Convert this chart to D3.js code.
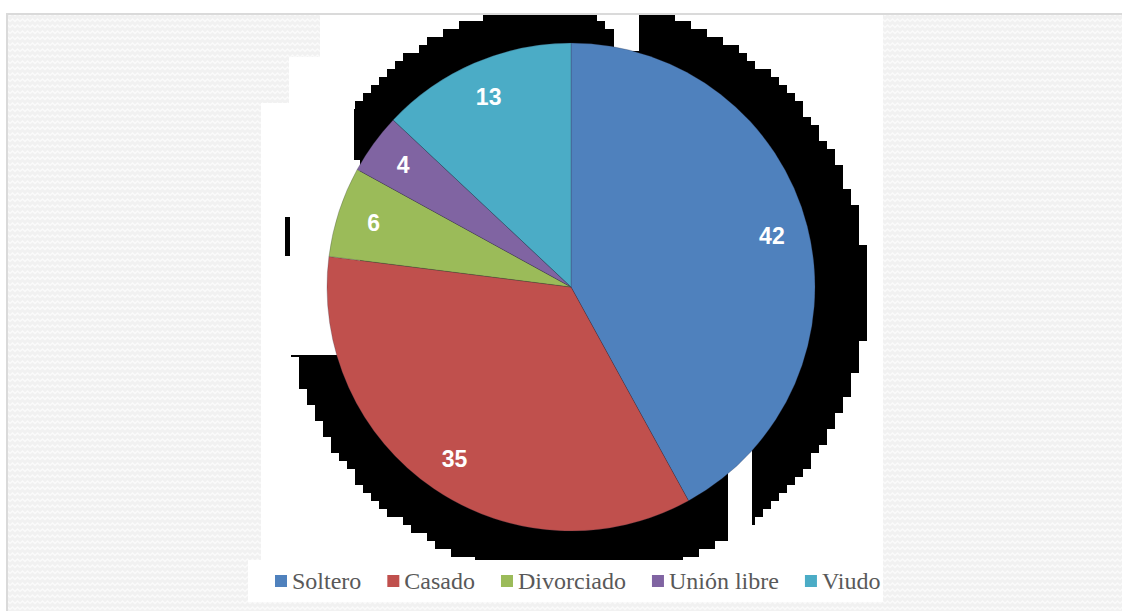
<!DOCTYPE html>
<html>
<head>
<meta charset="utf-8">
<script src="https://cdn.jsdelivr.net/npm/d3@7"></script>
<style>
  html, body { margin: 0; padding: 0; background: #ffffff; }
  svg { display: block; }
</style>
</head>
<body>
<svg id="chart" width="1122" height="611"></svg>
<script>
// ---- data ----
const categories = ["Soltero", "Casado", "Divorciado", "Unión libre", "Viudo"];
const values = [42, 35, 6, 4, 13];
const colors = ["#4F81BD", "#C0504D", "#9BBB59", "#8064A2", "#4BACC6"];

const W = 1122, H = 611;
const svg = d3.select("#chart");

// ---- background pattern ----
const defs = svg.append("defs");
const pat = defs.append("pattern").attr("id", "bgpat")
  .attr("patternUnits", "userSpaceOnUse").attr("width", 10).attr("height", 6);
pat.append("rect").attr("width", 10).attr("height", 6).attr("fill", "#f1f1f1");
pat.append("path").attr("d", "M0 3.5 L2.5 1 L5 3.5 L7.5 1 L10 3.5")
  .attr("fill", "none").attr("stroke", "#fbfbfb").attr("stroke-width", 1.4);

svg.append("rect").attr("x", 7).attr("y", 14).attr("width", W + 20).attr("height", H + 20)
  .attr("fill", "url(#bgpat)").attr("stroke", "#dadada").attr("stroke-width", 2);

// white chart panel (stepped shape as in the scan)
const panel = svg.append("g").attr("fill", "#ffffff");
[[320, 15, 563, 42], [289, 57, 594, 46], [261, 103, 622, 457]].forEach(r =>
  panel.append("rect").attr("x", r[0]).attr("y", r[1]).attr("width", r[2]).attr("height", r[3]));

// ---- pie geometry ----
const cx = 571, cy = 287, R = 244;

// pixelated black shadow (scan artifact) behind the pie
const sh = { cx: 577, cy: 291, r: 290 };
const shadow = svg.append("g").attr("fill", "#000");
const q = v => Math.round((v - 3) / 8) * 8 + 3;
for (let y0 = 13; y0 < 560; y0 += 8) {
  const ym = y0 + 4;
  const dy = ym - sh.cy;
  if (Math.abs(dy) >= sh.r) continue;
  const hw = Math.sqrt(sh.r * sh.r - dy * dy);
  const x1 = q(sh.cx - hw), x2 = q(sh.cx + hw);
  const top = Math.max(y0, 15);
  shadow.append("rect").attr("x", x1).attr("y", top).attr("width", x2 - x1).attr("height", y0 + 8 - top);
}
// white cut-outs in the shadow
const masks = [[261, 103, 93, 57], [261, 160, 99, 195], [597, 15, 42, 6], [605, 21, 34, 8], [614, 29, 25, 22], [728, 440, 24, 120]];
masks.forEach(r => svg.append("rect").attr("fill", "#fff")
  .attr("x", r[0]).attr("y", r[1]).attr("width", r[2]).attr("height", r[3]));
svg.append("rect").attr("x", 285).attr("y", 217).attr("width", 5).attr("height", 39).attr("fill", "#000");

// legend strip
svg.append("rect").attr("x", 248).attr("y", 560).attr("width", 635).attr("height", 42).attr("fill", "#fff");

// ---- pie ----
const pie = d3.pie().sort(null).value(d => d.v);
const data = pie(categories.map((c, i) => ({ c, v: values[i], col: colors[i] })));
const arc = d3.arc().innerRadius(0).outerRadius(R);
const labelArc = d3.arc().innerRadius(R * 0.85).outerRadius(R * 0.85);

const g = svg.append("g").attr("transform", `translate(${cx},${cy})`);
g.selectAll("path.slice").data(data).enter().append("path")
  .attr("class", "slice")
  .attr("d", arc)
  .attr("fill", d => d.data.col)
  .attr("stroke", "rgba(40,40,60,0.35)")
  .attr("stroke-width", 0.7);

g.selectAll("text.lbl").data(data).enter().append("text")
  .attr("class", "lbl")
  .attr("transform", d => `translate(${labelArc.centroid(d)})`)
  .attr("text-anchor", "middle")
  .attr("dy", "0.36em")
  .attr("fill", "#ffffff")
  .attr("font-family", "Arial, 'Liberation Sans', sans-serif")
  .attr("font-weight", "bold")
  .attr("font-size", 23)
  .text(d => d.data.v);

// ---- legend ----
const leg = svg.append("g");
let lx = 275;
categories.forEach((c, i) => {
  leg.append("rect").attr("x", lx).attr("y", 575).attr("width", 12).attr("height", 12).attr("fill", colors[i]);
  const t = leg.append("text").attr("x", lx + 17).attr("y", 589)
    .attr("font-family", "'Times New Roman', 'Liberation Serif', serif")
    .attr("font-size", 24).attr("fill", "#595959").text(c);
  lx += 17 + t.node().getComputedTextLength() + 26;
});
</script>
</body>
</html>
